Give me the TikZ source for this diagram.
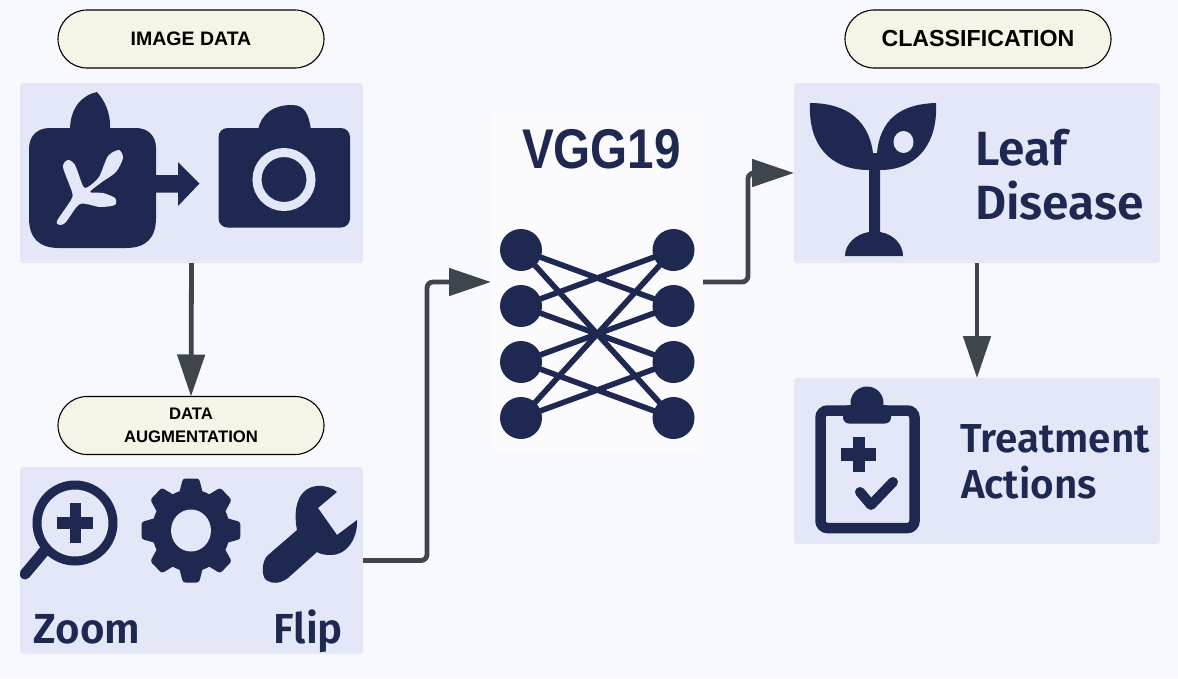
\documentclass[tikz,border=0pt]{standalone}
\usepackage{fontspec}
\setmainfont{Liberation Sans}
\newfontfamily\panelfont{Fira Sans SemiBold}
\usetikzlibrary{arrows.meta}
\definecolor{bgc}{HTML}{F8F9FE}
\definecolor{panelc}{HTML}{E4E7F8}
\definecolor{vggc}{HTML}{FBFBFE}
\definecolor{pillc}{HTML}{F5F4E6}
\definecolor{navy}{HTML}{1F2850}
\definecolor{linkc}{HTML}{3F454D}
\tikzset{
  panelbox/.style={rectangle,fill=panelc,draw=none,rounded corners=3pt,inner sep=0pt,outer sep=0pt},
  pill/.style={rectangle,fill=pillc,draw=black,line width=1.1pt,rounded corners=29pt,minimum width=266pt,minimum height=58pt,inner sep=0pt,outer sep=0pt,align=center},
  flow/.style={draw=linkc,line width=4.8pt,rounded corners=6pt,-{Triangle[length=42pt,width=27pt]}},
  icon/.style={fill=navy,draw=none},
  ring/.style={draw=navy,fill=none},
  neuron/.style={circle,fill=navy,draw=none,minimum size=42pt,inner sep=0pt,outer sep=-1pt},
  synapse/.style={draw=navy,line width=5.6pt},
  big/.style={inner sep=0pt,outer sep=0pt,text=navy,anchor=base west}
}
\begin{document}
\begin{tikzpicture}[x=1pt,y=-1pt]
\useasboundingbox (0,0) rectangle (1178,678);
\fill[bgc] (0,0) rectangle (1178,678);

% panels
\node[panelbox,minimum width=343pt,minimum height=180pt] (imgpanel) at (191.5,173) {};
\node[panelbox,minimum width=343pt,minimum height=187pt] (augpanel) at (191.5,560.5) {};
\node[panelbox,fill=vggc,minimum width=212pt,minimum height=338pt] (vggpanel) at (597,282) {};
\node[panelbox,minimum width=366pt,minimum height=180pt] (leafpanel) at (977,173) {};
\node[panelbox,minimum width=366pt,minimum height=166pt] (treatpanel) at (977,461) {};

% pills
\node[pill,font=\bfseries\fontsize{19.5}{22}\selectfont] (imgpill) at (191,39) {IMAGE DATA};
\node[pill,font=\bfseries\fontsize{16.7}{23}\selectfont] (augpill) at (191,425.5) {DATA\\AUGMENTATION};
\node[pill,font=\bfseries\fontsize{23.2}{26}\selectfont] (clspill) at (978,39) {CLASSIFICATION};

% connectors
\coordinate (elbowa) at (427,282);
\coordinate (elbowb) at (748,173);
\draw[flow] (imgpanel.south) -- (augpill.north);
\draw[flow] (augpanel.east) -| (elbowa) -- (vggpanel.west);
\draw[flow] (vggpanel.east) -| (elbowb) -- (leafpanel.west);
\draw[flow] (leafpanel.south) -- (treatpanel.north);

% plant icon
\fill[icon] (70,130) .. controls (70,108) and (82,95) .. (97,92)
  .. controls (104,100) and (111,112) .. (110,130) -- cycle;
\fill[icon] (50,128) -- (136,128) .. controls (148,128) and (156,136) .. (156,148)
  -- (156,218) .. controls (156,238) and (146,248) .. (126,248)
  -- (59,248) .. controls (39,248) and (29,238) .. (29,218)
  -- (29,149) .. controls (29,136) and (37,128) .. (50,128) -- cycle;
\fill[panelc] plot[smooth cycle,tension=.45] coordinates {
  (57,221) (71,200) (72,192) (63,167) (68,160) (75,165) (83,186) (88,187)
  (99,177) (108,156) (119,150) (123,158) (116,172) (102,182) (90,192)
  (103,193) (115,198) (115,205) (100,207) (80,204) (66,222) (60,225)};
% small arrow
\fill[icon] (155,175) -- (178,175) -- (178,162) -- (199.5,183.5) -- (178,206) -- (178,192.5) -- (155,192.5) -- cycle;
% camera
\fill[icon] (258,130) .. controls (262,112) and (275,105) .. (292,105)
  .. controls (305,105) and (309,115) .. (311,130) -- cycle;
\fill[icon,rounded corners=9pt] (218.5,128) rectangle (350,227.5);
\draw[draw=panelc,line width=9pt] (284,179.5) circle[radius=27];

% magnifier
\draw[ring,line width=9pt] (75,523) circle[radius=38];
\begin{scope}
\clip (20,470) rectangle (130,650);
\draw[navy,line width=11pt,line cap=round] (46,549) -- (25,574);
\end{scope}
\fill[icon] (70,503) rectangle (81,543);
\fill[icon] (57,517) rectangle (93,529);
% gear
\begin{scope}[shift={(191,530.5)},xscale=.95]
\fill[icon] (0,0) circle[radius=41];
\foreach \a in {0,45,...,315}{
  \fill[icon,rotate=\a,rounded corners=2.5pt]
    (-13,-35.5) -- (-8.5,-52) -- (8.5,-52) -- (13,-35.5) -- cycle;
}
\fill[panelc] (0,0) circle[radius=21];
\end{scope}
% wrench
\fill[icon] (267,556) -- (297,530) .. controls (293,510) and (297,488) .. (317,486)
  .. controls (325,485) and (332,488) .. (337,492) -- (318,508) -- (337,535) -- (357,520)
  .. controls (358,540) and (345,556) .. (330,555)
  .. controls (325,555) and (320,554) .. (317,552)
  -- (288,578) .. controls (280,584) and (272,584) .. (266,580)
  .. controls (261,575) and (262,562) .. (267,556) -- cycle;

% neural net
\foreach \n/\y in {1/250,2/306,3/362,4/418}{
  \node[neuron] (L\n) at (521,\y) {};
  \node[neuron] (R\n) at (673.5,\y) {};
}
\foreach \s/\t in {1/2,1/4,2/1,2/3,3/2,3/4,4/1,4/3}{
  \draw[synapse] (L\s) -- (R\t);
}

% sprout
\fill[icon] (810,103) .. controls (840,103) and (868,115) .. (873,153)
  -- (877,153) .. controls (880,120) and (900,104) .. (936,103)
  .. controls (938,140) and (920,170) .. (880,170)
  -- (880,232) .. controls (893,234) and (903,244) .. (903,256)
  -- (845,256) .. controls (845,244) and (856,234) .. (869,232)
  -- (869,170) .. controls (830,170) and (808,145) .. (810,103) -- cycle;
\fill[panelc] (903.5,142) ellipse[x radius=10,y radius=11];

% clipboard
\draw[draw=navy,fill=none,line width=10.5pt,rounded corners=7pt] (820.5,410.5) rectangle (914.5,528);
\fill[icon] (867,403) circle[radius=16.5];
\fill[icon,rounded corners=6pt] (843,405) rectangle (891,423.5);
\fill[icon] (853,437) rectangle (865,472);
\fill[icon] (841,448) rectangle (876,461);
\draw[navy,line width=10pt,line cap=round,line join=round] (860,492) -- (871,505) -- (893,482);

% texts
\node[big,font=\panelfont\fontsize{48}{50}\selectfont] (leafa) at (975,165) {Leaf};
\node[big,font=\panelfont\fontsize{48}{50}\selectfont] (leafb) at (975,219) {Disease};
\node[big,font=\panelfont\fontsize{40.4}{42}\selectfont] (treata) at (960,452) {Treatment};
\node[big,font=\panelfont\fontsize{40.4}{42}\selectfont] (treatb) at (961,498) {Actions};
\node[big,font=\panelfont\fontsize{42}{44}\selectfont] (zoomt) at (34,643) {Zoom};
\node[big,font=\panelfont\fontsize{42}{44}\selectfont] (flipt) at (273.5,643) {Flip};
\node[big,font=\bfseries\fontsize{56}{60}\selectfont] (vggt) at (522,168) {\scalebox{0.85}[1]{VGG19}};
\end{tikzpicture}
\end{document}
